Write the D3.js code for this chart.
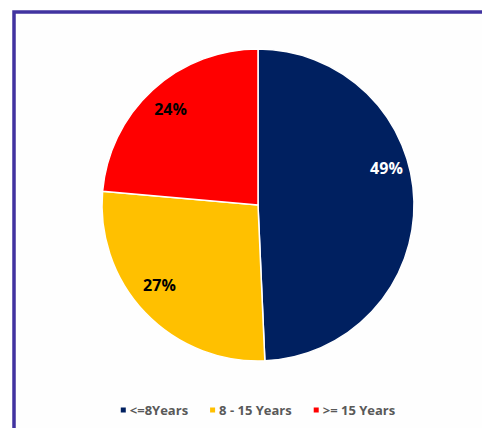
<!DOCTYPE html>
<html>
<head>
<meta charset="utf-8">
<script src="https://cdn.jsdelivr.net/npm/d3@7"></script>
<style>
  body { margin: 0; background: #fff; }
  svg { display: block; }
</style>
</head>
<body>
<div id="chart"></div>
<script>
// data
const categories = ["<=8Years", "8 - 15 Years", ">= 15 Years"];
const shares = [49.3, 27.1, 23.6];
const colors = ["#002060", "#FFC000", "#FF0000"];
const labelColors = ["#ffffff", "#000000", "#000000"];

const width = 482, height = 428;
const cx = 258, cy = 205, radius = 156;

const svg = d3.select("#chart").append("svg")
  .attr("width", width)
  .attr("height", height);

// frame
svg.append("rect")
  .attr("x", 14).attr("y", 12)
  .attr("width", width).attr("height", height)
  .attr("fill", "#fefefe")
  .attr("stroke", "#4133a0")
  .attr("stroke-width", 3.5);

const pie = d3.pie().sort(null).value(d => d);
const arcs = pie(shares);
const arc = d3.arc().innerRadius(0).outerRadius(radius);
const labelArc = d3.arc().innerRadius(radius * 0.83).outerRadius(radius * 0.83);

// excel "best fit" moves labels a bit, small nudges per slice
const labelNudge = [[-1, -34], [-5, -10], [0, -1]];

const g = svg.append("g").attr("transform", `translate(${cx},${cy})`);

g.selectAll("path")
  .data(arcs)
  .join("path")
  .attr("d", arc)
  .attr("fill", (d, i) => colors[i])
  .attr("stroke", "#ffffff")
  .attr("stroke-width", 1.5);

g.selectAll("text.lbl")
  .data(arcs)
  .join("text")
  .attr("class", "lbl")
  .attr("x", (d, i) => labelArc.centroid(d)[0] + labelNudge[i][0])
  .attr("y", (d, i) => labelArc.centroid(d)[1] + labelNudge[i][1])
  .attr("text-anchor", "middle")
  .attr("dominant-baseline", "central")
  .attr("font-family", "'Open Sans', sans-serif")
  .attr("font-weight", "bold")
  .attr("font-size", "16px")
  .attr("fill", (d, i) => labelColors[i])
  .text(d => Math.round(d.data) + "%");

// legend
const legend = svg.append("g").attr("transform", "translate(0,410)");
const items = legend.selectAll("g")
  .data(categories)
  .join("g");

items.append("rect")
  .attr("width", 5).attr("height", 5)
  .attr("y", -2.5)
  .attr("fill", (d, i) => colors[i]);

items.append("text")
  .attr("x", 9)
  .attr("dominant-baseline", "central")
  .attr("font-family", "'Open Sans', sans-serif")
  .attr("font-weight", "bold")
  .attr("font-size", "13px")
  .attr("fill", "#595959")
  .text(d => d);

let offsets = [], xx = 0;
items.each(function () {
  const w = this.getBBox().width;
  offsets.push(xx);
  xx += w + 22;
});
const total = xx - 22;
const startX = 258 - total / 2;
items.attr("transform", (d, i) => `translate(${startX + offsets[i]},0)`);
</script>
</body>
</html>
